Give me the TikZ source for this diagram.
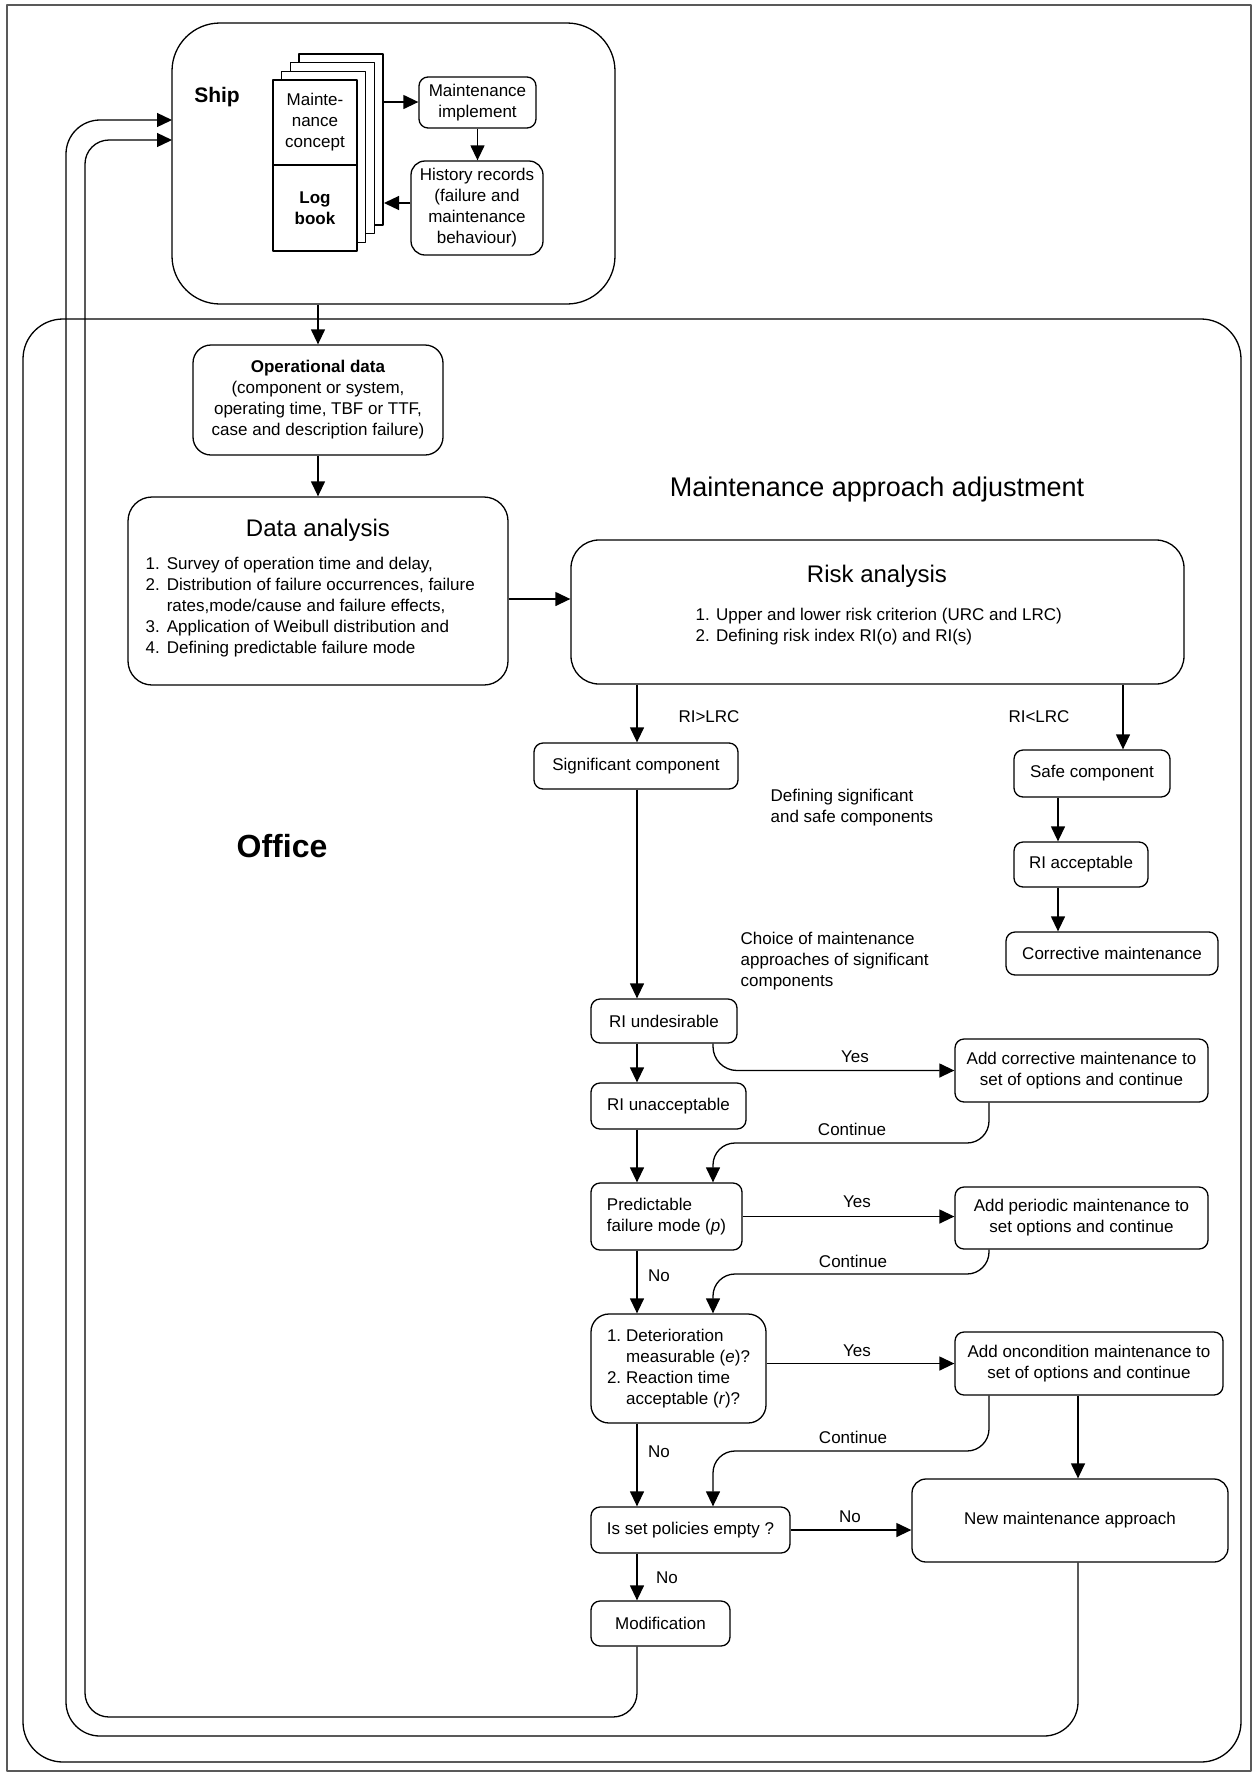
\documentclass[tikz,border=0pt]{standalone}
\usepackage{fontspec}
\setmainfont{Liberation Sans}
\usetikzlibrary{arrows.meta}

\tikzset{
  box/.style={draw, rounded corners=9pt, align=center, inner sep=1pt},
  bigbox/.style={draw, rounded corners=28pt, inner sep=0pt},
  page/.style={draw, fill=white, align=center, inner sep=0pt, minimum width=84pt},
  lbl/.style={inner sep=0pt, align=left},
}
\newcommand{\titlefont}{\fontsize{24pt}{28pt}\selectfont}

\begin{document}
\begin{tikzpicture}[x=1pt, y=-1pt, line width=1.3pt, line join=round, font=\fontsize{17pt}{21pt}\selectfont, >={Triangle[length=15pt,width=14pt]}]
\useasboundingbox (0,0) rectangle (1253,1773);
\draw[black!65, line width=2.2pt] (7,5) rectangle (1251,1771);

% columns used by the connectors
\coordinate (mcol) at (637,0);
\coordinate (ccol) at (713,0);
\coordinate (kcol) at (989,0);
\coordinate (rcol) at (1078,0);
\coordinate (scol) at (1123,0);
\coordinate (acol) at (1058,0);
\coordinate (darow) at (0,599);

% ship
\node[draw, rounded corners=48pt, minimum width=443pt, minimum height=281pt] (shipbox) at (393.5,163.5) {};
\node[lbl, font=\fontsize{21pt}{25pt}\selectfont\bfseries] (shiplbl) at (217,97) {Ship};
\foreach \k in {3,2,1}
  \draw[fill=white] (273+8.7*\k,80-8.7*\k) rectangle ++(84,171);
\node[page, minimum height=85pt] (concept) at (315,122.5) {Mainte-\\nance\\concept};
\node[page, minimum height=86pt, font=\fontsize{17pt}{21pt}\selectfont\bfseries] (logbook) at (315,208) {Log\\book};
\coordinate (stackA) at (384,102);
\coordinate (stackB) at (384,203);
\node[box, minimum width=117pt, minimum height=51pt] (mi) at (477.5,102.5) {Maintenance\\implement};
\node[box, rounded corners=14pt, minimum width=132pt, minimum height=94pt] (hr) at (477,208) {History records\\(failure and\\maintenance\\behaviour)};
\draw[->] (stackA) -- (stackA -| mi.west);
\draw[->] (mi.south) -- (mi.south |- hr.north);
\draw[->] (stackB -| hr.west) -- (stackB);

% office
\node[draw, rounded corners=40pt, minimum width=1218pt, minimum height=1443pt] (officebox) at (632,1040.5) {};
\node[lbl, font=\fontsize{32pt}{38pt}\selectfont\bfseries] (officelbl) at (282,846) {Office};
\node[box, rounded corners=18pt, minimum width=250pt, minimum height=110pt] (opdata) at (318,400) {\textbf{Operational data}\\(component or system,\\operating time, TBF or TTF,\\case and description failure)};
\draw[->] (shipbox.south -| opdata) -- (opdata.north);

% data analysis
\node[bigbox, rounded corners=24pt, minimum width=380pt, minimum height=188pt] (da) at (318,591) {};
\node[lbl, font=\titlefont] (datitle) at (318,530) {Data analysis};
\node[lbl, anchor=west] (dalist) at (145,607.5) {\begin{tabular}{@{}r@{\hspace{7pt}}l@{}}1. & Survey of operation time and delay,\\ 2. & Distribution of failure occurrences, failure\\ & rates,mode/cause and failure effects,\\ 3. & Application of Weibull distribution and\\ 4. & Defining predictable failure mode\end{tabular}};
\draw[->] (opdata.south) -- (da.north);

% risk analysis
\node[lbl, font=\fontsize{27pt}{32pt}\selectfont] (maatitle) at (877,490) {Maintenance approach adjustment};
\node[bigbox, minimum width=613pt, minimum height=144pt] (risk) at (877.5,612) {};
\node[lbl, font=\titlefont] (risktitle) at (877,576) {Risk analysis};
\node[lbl, anchor=west] (risklist) at (695,627) {1. Upper and lower risk criterion (URC and LRC)\\2. Defining risk index RI(o) and RI(s)};
\draw[->] (da.east |- darow) -- (risk.west |- darow);

% significant and safe components
\node[box, minimum width=204pt, minimum height=46pt] (sig) at (636,766) {Significant component};
\node[box, minimum width=156pt, minimum height=47pt] (safe) at (1092,773.5) {Safe component};
\node[box, minimum width=134pt, minimum height=45pt] (riacc) at (1081,864.5) {RI acceptable};
\node[box, minimum width=212pt, minimum height=43pt] (corr) at (1112,953.5) {Corrective maintenance};
\draw[->] (risk.south -| mcol) -- (sig.north -| mcol);
\draw[->] (risk.south -| scol) -- (safe.north -| scol);
\draw[->] (safe.south -| acol) -- (riacc.north -| acol);
\draw[->] (riacc.south -| acol) -- (corr.north -| acol);
\node[lbl] (gt) at (709,717) {RI>LRC};
\node[lbl] (lt) at (1039,717) {RI<LRC};
\node[lbl, anchor=west] (defnote) at (770,807.5) {Defining significant\\and safe components};
\node[lbl, anchor=west] (choicenote) at (740,961) {Choice of maintenance\\approaches of significant\\components};

% choice of maintenance approach
\node[box, minimum width=146pt, minimum height=44pt] (rund) at (664,1021) {RI undesirable};
\node[box, minimum width=155pt, minimum height=46pt] (runa) at (668.5,1106) {RI unacceptable};
\node[box, align=left, minimum width=151pt, minimum height=67pt] (pred) at (666.5,1216.5) {Predictable\\failure mode (\textit{p})};
\node[box, rounded corners=18pt, minimum width=175pt, minimum height=109pt] (det) at (678.5,1368.5) {\begin{tabular}{@{}r@{\hspace{5pt}}l@{}}1. & Deterioration\\ & measurable (\textit{e})?\\ 2. & Reaction time\\ & acceptable (\textit{r})?\end{tabular}};
\node[box, minimum width=199pt, minimum height=46pt] (isset) at (690.5,1530) {Is set policies empty ?};
\node[box, minimum width=139pt, minimum height=45pt] (modif) at (660.5,1623.5) {Modification};
\node[box, minimum width=253pt, minimum height=63pt] (addcorr) at (1081.5,1070.5) {Add corrective maintenance to\\set of options and continue};
\node[box, minimum width=253pt, minimum height=62pt] (addper) at (1081.5,1218) {Add periodic maintenance to\\set options and continue};
\node[box, minimum width=268pt, minimum height=63pt] (addcond) at (1089,1363.5) {Add oncondition maintenance to\\set of options and continue};
\node[box, rounded corners=14pt, minimum width=316pt, minimum height=83pt] (nma) at (1070,1520.5) {New maintenance approach};

\foreach \a/\b in {sig/rund, rund/runa, runa/pred, pred/det, det/isset, isset/modif}
  \draw[->] (\a.south -| mcol) -- (\b.north -| mcol);
\draw[->, rounded corners=24pt] (rund.south -| ccol) |- (addcorr.west);
\draw[->] (pred.east) -- (pred.east -| addper.west);
\draw[->] (det.east |- addcond.west) -- (addcond.west);
\draw[->] (isset.east) -- (isset.east -| nma.west);
\foreach \a/\b/\y in {addcorr/pred/1143, addper/det/1274, addcond/isset/1451}
  \draw[->, rounded corners=22pt] (\a.south -| kcol) |- (713,\y) -- (\b.north -| ccol);
\draw[->] (addcond.south -| rcol) -- (nma.north -| rcol);

\node[lbl] (yes1) at (855,1057) {Yes};
\node[lbl] (yes2) at (857,1202) {Yes};
\node[lbl] (yes3) at (857,1351) {Yes};
\node[lbl] (cont1) at (852,1129) {Continue};
\node[lbl] (cont2) at (853,1261) {Continue};
\node[lbl] (cont3) at (853,1437) {Continue};
\node[lbl] (no1) at (659,1276) {No};
\node[lbl] (no2) at (659,1452) {No};
\node[lbl] (no3) at (850,1517) {No};
\node[lbl] (no4) at (667,1578) {No};

% feedback loops back to the ship
\coordinate (shipinA) at (172,120);
\coordinate (shipinB) at (172,140);
\draw[->, rounded corners=24pt] (modif.south -| mcol) -- (637,1717) -- (85,1717) -- (85,140) -- (shipinB);
\draw[->, rounded corners=34pt] (nma.south -| rcol) -- (1078,1736) -- (66,1736) -- (66,120) -- (shipinA);
\end{tikzpicture}
\end{document}
